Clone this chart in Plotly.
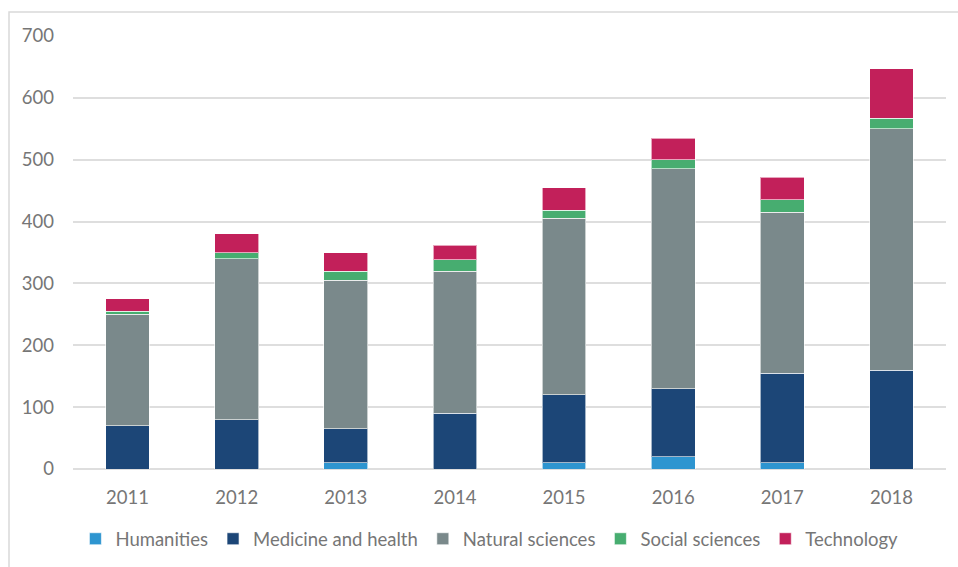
import plotly.graph_objects as go

years = ["2011", "2012", "2013", "2014", "2015", "2016", "2017", "2018"]
humanities = [0, 0, 10, 0, 10, 20, 10, 0]
medicine = [70, 80, 55, 90, 110, 110, 145, 160]
natural = [180, 260, 240, 230, 285, 355, 260, 390]
social = [5, 10, 15, 18, 13, 15, 20, 17]
technology = [20, 30, 30, 24, 37, 35, 37, 80]

series = [
    ("Humanities", humanities, "#2e95d0"),
    ("Medicine and health", medicine, "#1c4677"),
    ("Natural sciences", natural, "#7a898b"),
    ("Social sciences", social, "#47ad70"),
    ("Technology", technology, "#c2205a"),
]

FONT = "Lato"
TXT = "#767676"

fig = go.Figure()
for name, vals, col in series:
    fig.add_trace(go.Bar(
        x=years, y=vals, name=name,
        marker=dict(color=col, line=dict(color="rgba(255,255,255,0.6)", width=1)),
    ))

fig.update_layout(
    barmode="stack",
    bargap=0.6,
    width=958, height=567,
    margin=dict(l=73, r=12, t=36, b=98, autoexpand=False),
    plot_bgcolor="white", paper_bgcolor="white",
    font=dict(family=FONT, size=18.5, color=TXT),
    showlegend=True,
    legend=dict(
        orientation="h", x=0.477, xanchor="center",
        yref="container", y=0.049, yanchor="middle",
        font=dict(family=FONT, size=18.5, color=TXT),
        traceorder="normal",
    ),
    xaxis=dict(
        showgrid=False, showline=False, ticks="", ticklabelstandoff=15, automargin=False,
        tickfont=dict(family=FONT, size=18.5, color=TXT),
    ),
    yaxis=dict(
        range=[0, 700], dtick=100, showgrid=True, gridcolor="#dedede", gridwidth=1.5,
        zeroline=True, zerolinecolor="#dedede", zerolinewidth=1.5,
        showline=False, ticks="", ticklabelstandoff=18, automargin=False,
        tickfont=dict(family=FONT, size=18.5, color=TXT),
    ),
    shapes=[dict(
        type="rect", xref="paper", yref="paper",
        x0=-0.0733, x1=1.2, y0=-0.4, y1=1.0554,
        line=dict(color="#d9d9d9", width=1.5), fillcolor="rgba(0,0,0,0)", layer="below",
    )],
)

fig.write_html("out.html")
